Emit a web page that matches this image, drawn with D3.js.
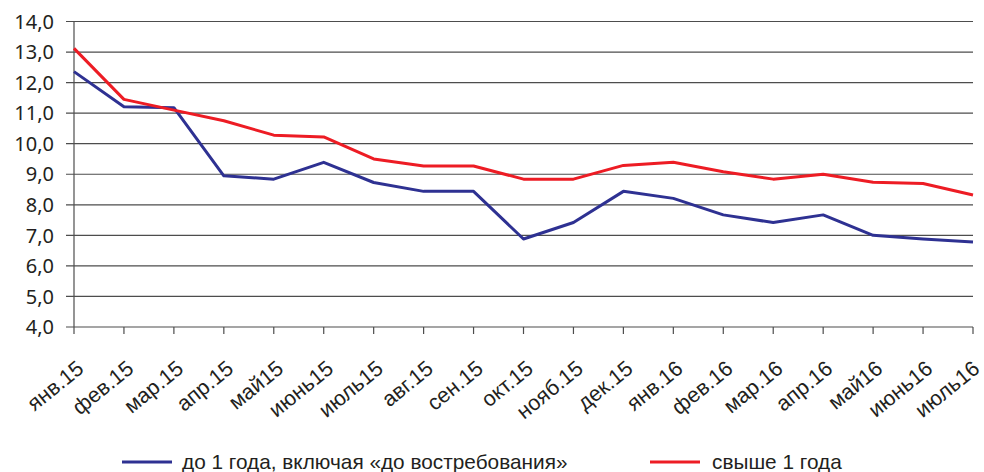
<!DOCTYPE html>
<html lang="ru">
<head>
<meta charset="UTF-8">
<title>Ставки</title>
<script src="https://cdn.jsdelivr.net/npm/d3@7/dist/d3.min.js"></script>
<style>
  body { margin: 0; background: #fff; }
  .ytick text { font-family: "Noto Sans", sans-serif; font-size: 20px; fill: #231f20; }
  .xtick text { font-family: "Liberation Sans", Arial, sans-serif; font-size: 21.5px; fill: #231f20; }
  .legend text { font-family: "Liberation Sans", Arial, sans-serif; font-size: 20.8px; fill: #231f20; }
</style>
</head>
<body>
<svg id="chart" width="984" height="472"></svg>
<script>
const months = ["янв.15", "фев.15", "мар.15", "апр.15", "май15", "июнь15", "июль15", "авг.15", "сен.15",
  "окт.15", "нояб.15", "дек.15", "янв.16", "фев.16", "мар.16", "апр.16", "май16", "июнь16", "июль16"];

const upTo1Year = [12.36, 11.21, 11.18, 8.95, 8.84, 9.39, 8.73, 8.44, 8.44,
  6.88, 7.42, 8.44, 8.21, 7.67, 7.42, 7.67, 7.0, 6.88, 6.78];

const over1Year = [13.12, 11.45, 11.10, 10.75, 10.28, 10.22, 9.50, 9.27, 9.27,
  8.84, 8.84, 9.29, 9.39, 9.08, 8.84, 9.0, 8.74, 8.70, 8.32];

const yTicks = [4, 5, 6, 7, 8, 9, 10, 11, 12, 13, 14];

const seriesNames = ["до 1 года, включая «до востребования»", "свыше 1 года"];
const colors = ["#2e3192", "#ed1c24"];

const svg = d3.select("#chart");
const plot = {left: 74, right: 973, top: 21.5, bottom: 327};

const x = d3.scalePoint().domain(months).range([plot.left, plot.right]);
const y = d3.scaleLinear().domain([4, 14]).range([plot.bottom, plot.top]);

// grid lines + y labels
const yg = svg.append("g").attr("class", "ytick");
yg.selectAll("line.grid").data(yTicks).enter().append("line")
  .attr("x1", plot.left - 8).attr("x2", plot.right)
  .attr("y1", d => y(d)).attr("y2", d => y(d))
  .attr("stroke", "#4d4d4d").attr("stroke-width", 1.2);
yg.selectAll("text").data(yTicks).enter().append("text")
  .attr("x", 54).attr("y", d => y(d)).attr("dy", "0.36em")
  .attr("text-anchor", "end")
  .text(d => d3.format(".1f")(d).replace(".", ","));

// y axis line
svg.append("line").attr("x1", plot.left).attr("x2", plot.left).attr("y1", plot.top).attr("y2", plot.bottom)
  .attr("stroke", "#4d4d4d").attr("stroke-width", 1.2);

// x ticks and labels
const xg = svg.append("g").attr("class", "xtick");
xg.selectAll("line").data(months).enter().append("line")
  .attr("x1", d => x(d)).attr("x2", d => x(d))
  .attr("y1", plot.bottom).attr("y2", plot.bottom + 7)
  .attr("stroke", "#4d4d4d").attr("stroke-width", 1.2);
xg.selectAll("text").data(months).enter().append("text")
  .attr("transform", d => `translate(${Math.min(x(d) + 11, 981)},${plot.bottom + 44}) rotate(-39)`)
  .attr("text-anchor", "end")
  .text(d => d);

// lines
const line = d3.line().x((d, i) => x(months[i])).y(d => y(d));
[upTo1Year, over1Year].forEach((vals, i) => {
  svg.append("path").datum(vals)
    .attr("d", line)
    .attr("fill", "none")
    .attr("stroke", colors[i])
    .attr("stroke-width", 3)
    .attr("stroke-linejoin", "round");
});

// legend
const legendPos = [122, 650];
const lg = svg.append("g").attr("class", "legend");
seriesNames.forEach((name, i) => {
  lg.append("line")
    .attr("x1", legendPos[i]).attr("x2", legendPos[i] + 50)
    .attr("y1", 462).attr("y2", 462)
    .attr("stroke", colors[i]).attr("stroke-width", 3);
  lg.append("text")
    .attr("x", legendPos[i] + 60 + (i ? 2 : 0)).attr("y", 462).attr("dy", "0.35em")
    .text(name);
});
</script>
</body>
</html>
